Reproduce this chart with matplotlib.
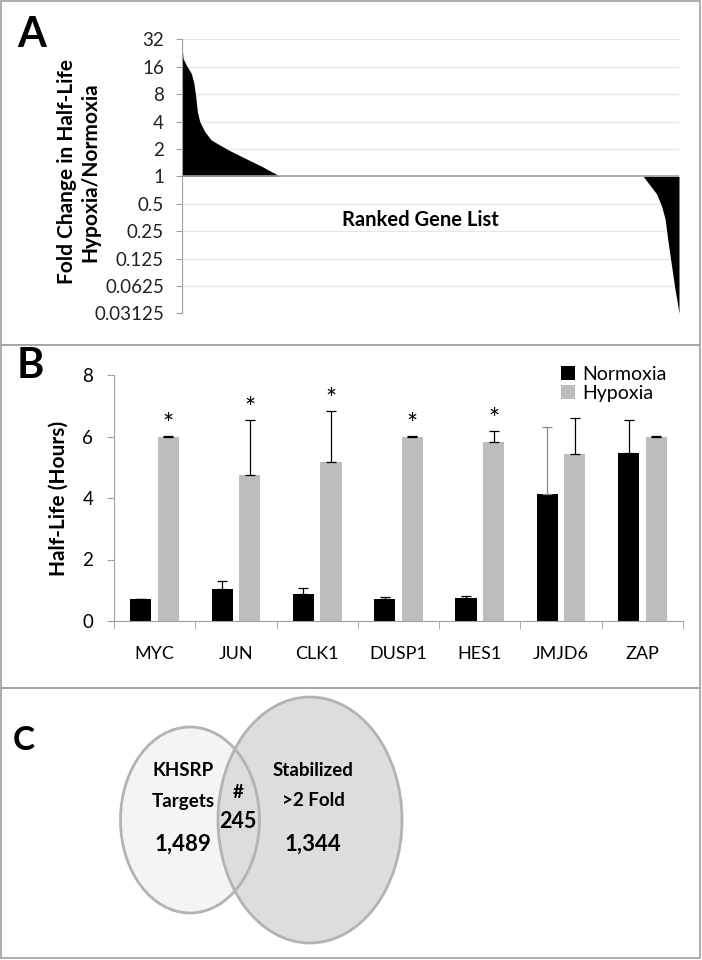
import matplotlib
matplotlib.use("Agg")
import matplotlib.pyplot as plt
from matplotlib.patches import Rectangle, Ellipse
import numpy as np

plt.rcParams['font.family'] = ['Lato', 'DejaVu Sans']

# ---------------- Data ----------------
# Panel A: ranked gene list (rank as % of list) vs fold change (hypoxia/normoxia)
rank_up = [0.0, 0.2, 0.87, 1.87, 2.4, 2.76, 3.1, 3.56, 4.57, 5.9, 9.26, 12.6, 16.0, 19.3, 20.0]
fold_up = [28.9, 19.8, 16.7, 13.5, 10.5, 7.5, 5.1, 4.0, 3.1, 2.5, 1.96, 1.59, 1.29, 1.03, 1.0]
rank_down = [92.8, 94.0, 95.5, 96.5, 97.2, 97.8, 98.5, 99.2, 99.66, 100.0]
fold_down = [1.0, 0.82, 0.64, 0.47, 0.34, 0.19, 0.104, 0.057, 0.041, 0.03125]
a_ticks = [32, 16, 8, 4, 2, 1, 0.5, 0.25, 0.125, 0.0625, 0.03125]
a_ticklabels = ['32', '16', '8', '4', '2', '1', '0.5', '0.25', '0.125', '0.0625', '0.03125']

# Panel B: half-lives
genes = ['MYC', 'JUN', 'CLK1', 'DUSP1', 'HES1', 'JMJD6', 'ZAP']
normoxia = [0.70, 1.05, 0.88, 0.71, 0.76, 4.13, 5.45]
normoxia_err = [0.02, 0.24, 0.18, 0.08, 0.06, 2.17, 1.09]
hypoxia = [6.0, 4.75, 5.16, 6.0, 5.82, 5.43, 6.0]
hypoxia_err = [0.01, 1.78, 1.67, 0.01, 0.36, 1.16, 0.01]
significant = [True, True, True, True, True, False, False]

# Panel C: Venn counts
venn_left_label = ['KHSRP', 'Targets']
venn_right_label = ['Stabilized', '>2 Fold']
venn_left_only = '1,489'
venn_overlap = '245'
venn_right_only = '1,344'

# ---------------- Figure ----------------
W, H = 702, 960
fig = plt.figure(figsize=(W / 100, H / 100), dpi=100)

def fx(x):
    return x / W

def fy(y):
    return 1 - y / H

border = '#a6a6a6'
for (y0, y1) in [(1, 345), (345, 688), (688, 958)]:
    fig.add_artist(Rectangle((fx(1), fy(y1)), fx(699), (y1 - y0) / H,
                             transform=fig.transFigure, fill=False,
                             edgecolor=border, lw=1.3))

grid_c = '#e6e6e6'
axis_c = '#a0a0a0'

# ---------------- Panel A ----------------
axA = fig.add_axes([fx(182), fy(313.3), fx(679 - 182), (313.3 - 39.3) / H])
axA.set_yscale('log', base=2)
axA.set_ylim(0.03125, 32)
axA.set_xlim(0, 100)
axA.fill_between(rank_up, 1, fold_up, color='black', lw=0)
axA.fill_between(rank_down, fold_down, 1, color='black', lw=0)
axA.set_yticks(a_ticks)
axA.set_yticklabels(a_ticklabels)
axA.yaxis.set_minor_locator(matplotlib.ticker.NullLocator())
for t in a_ticks:
    if t != 1:
        axA.axhline(t, color=grid_c, lw=1, zorder=0)
axA.axhline(1, color=axis_c, lw=1.2, zorder=3)
for s in ['top', 'right', 'bottom']:
    axA.spines[s].set_visible(False)
axA.spines['left'].set_color(axis_c)
axA.tick_params(axis='y', direction='out', length=4, color=axis_c,
                labelsize=13.5, pad=9, labelcolor='#222222')
axA.set_xticks([])
axA.text(48, 0.33, 'Ranked Gene List', ha='center', va='center',
         fontsize=14.5, fontweight='bold')
fig.text(fx(79), fy(172), 'Fold Change in Half-Life\nHypoxia/Normoxia',
         rotation=90, ha='center', va='center', fontsize=15,
         fontweight='bold', linespacing=1.2)
fig.text(fx(17), fy(35), 'A', fontsize=30, fontweight='bold',
         ha='left', va='center')

# ---------------- Panel B ----------------
axB = fig.add_axes([fx(114), fy(621), fx(683 - 114), (621 - 375) / H])
x = np.arange(len(genes))
bw = 0.26
off = 0.17
gray = '#bcbdbf'
axB.bar(x - off, normoxia, bw, color='black', label='Normoxia', zorder=2)
axB.bar(x + off, hypoxia, bw, color=gray, label='Hypoxia', zorder=2)
for i in range(len(genes)):
    ecn = '#888888' if i == 5 else 'black'
    axB.errorbar(x[i] - off, normoxia[i], yerr=[[0], [normoxia_err[i]]],
                 fmt='none', ecolor=ecn, elinewidth=0.9, capsize=3.5,
                 capthick=0.9, zorder=3)
    axB.errorbar(x[i] + off, hypoxia[i], yerr=[[0], [hypoxia_err[i]]],
                 fmt='none', ecolor='black', elinewidth=0.9, capsize=3.5,
                 capthick=0.9, zorder=3)
    if significant[i]:
        axB.text(x[i] + off, hypoxia[i] + hypoxia_err[i] - 0.05, '*',
                 ha='center', va='bottom', fontsize=19)
axB.set_xlim(-0.5, len(genes) - 0.5)
axB.set_ylim(0, 8)
axB.set_yticks([0, 2, 4, 6, 8])
axB.set_xticks(x)
axB.set_xticklabels(genes)
axB.set_xticks(np.arange(-0.5, len(genes)), minor=True)
axB.tick_params(axis='x', which='major', length=0, pad=18, labelsize=13)
axB.tick_params(axis='x', which='minor', length=6, color=axis_c, direction='out')
axB.tick_params(axis='y', length=5, color=axis_c, labelsize=13.5, pad=10)
for s in ['top', 'right']:
    axB.spines[s].set_visible(False)
axB.spines['left'].set_color(axis_c)
axB.spines['bottom'].set_color(axis_c)
axB.set_ylabel('Half-Life (Hours)', fontsize=15, fontweight='bold', labelpad=10)
leg = axB.legend(loc='upper right', bbox_to_anchor=(0.985, 1.07), frameon=False,
                 fontsize=14, handlelength=0.7, handleheight=0.7,
                 handletextpad=0.4, labelspacing=0.1, borderaxespad=0)
fig.text(fx(17), fy(366), 'B', fontsize=30, fontweight='bold',
         ha='left', va='center')

# ---------------- Panel C ----------------
axC = fig.add_axes([0, fy(958), 1, (958 - 688) / H])
axC.set_xlim(0, W)
axC.set_ylim(958, 688)
axC.axis('off')
edge = '#b3b3b3'
axC.add_patch(Ellipse((190, 820), 139, 186, facecolor='#f3f4f4', edgecolor='none'))
axC.add_patch(Ellipse((310, 820), 184, 246, facecolor='#d9dadc', edgecolor='none',
                      alpha=0.92))
axC.add_patch(Ellipse((190, 820), 139, 186, facecolor='none', edgecolor=edge, lw=2))
axC.add_patch(Ellipse((310, 820), 184, 246, facecolor='none', edgecolor=edge, lw=2))
axC.text(183, 771, venn_left_label[0], ha='center', va='center', fontsize=13.5, fontweight='bold')
axC.text(183, 801, venn_left_label[1], ha='center', va='center', fontsize=13.5, fontweight='bold')
axC.text(183, 844, venn_left_only, ha='center', va='center', fontsize=16, fontweight='bold')
axC.text(238, 793, '#', ha='center', va='center', fontsize=13.5, fontweight='bold')
axC.text(238, 822, venn_overlap, ha='center', va='center', fontsize=15.5, fontweight='bold')
axC.text(313, 771, venn_right_label[0], ha='center', va='center', fontsize=13.5, fontweight='bold')
axC.text(313, 801, venn_right_label[1], ha='center', va='center', fontsize=13.5, fontweight='bold')
axC.text(313, 844, venn_right_only, ha='center', va='center', fontsize=16, fontweight='bold')
fig.text(fx(13), fy(740), 'C', fontsize=24, fontweight='bold',
         ha='left', va='center')

fig.savefig('out.png', dpi=100)
